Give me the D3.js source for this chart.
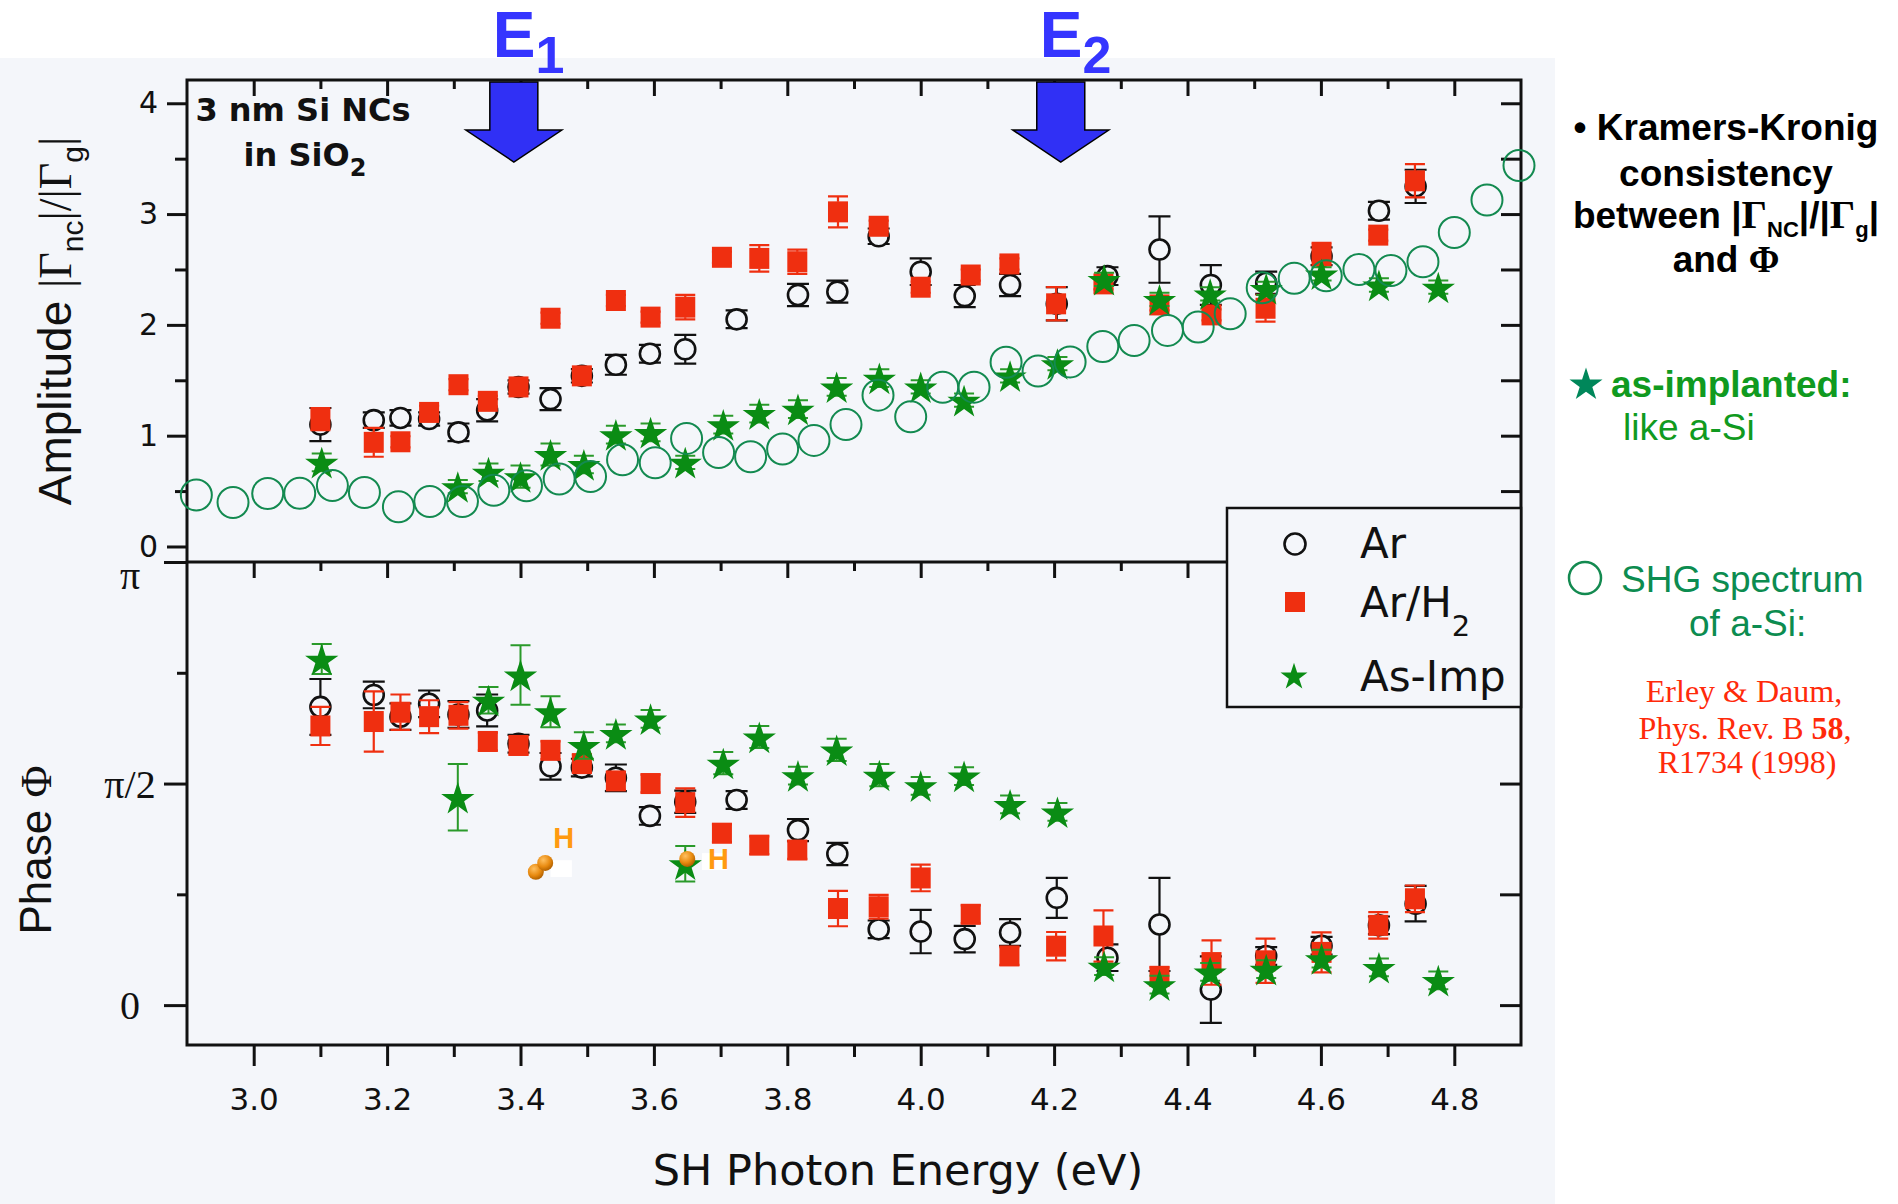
<!DOCTYPE html>
<html>
<head>
<meta charset="utf-8">
<script src="https://cdnjs.cloudflare.com/ajax/libs/d3/7.8.5/d3.min.js"></script>
<style>
  body { margin: 0; background: #fff; }
  svg { display: block; }
</style>
</head>
<body>
<div id="canvas"></div>
<script>
/* DATA (phase values are in units of pi) */
const energyAr = [3.10, 3.18, 3.22, 3.263, 3.307, 3.35, 3.397, 3.445, 3.492, 3.543, 3.594, 3.647, 3.724, 3.816, 3.875, 3.937, 4.0, 4.066, 4.134, 4.204, 4.28, 4.358, 4.435, 4.518, 4.601, 4.687, 4.742];
const ampAr = [1.10, 1.14, 1.16, 1.15, 1.03, 1.23, 1.44, 1.33, 1.54, 1.64, 1.74, 1.78, 2.05, 2.27, 2.30, 2.80, 2.48, 2.26, 2.36, 2.19, 2.44, 2.68, 2.36, 2.38, 2.62, 3.03, 3.25];
const ampErrAr = [0.15, 0.07, 0.07, 0.06, 0.08, 0.1, 0.06, 0.1, 0.06, 0.09, 0.08, 0.13, 0.08, 0.1, 0.1, 0.07, 0.12, 0.1, 0.1, 0.15, 0.08, 0.3, 0.18, 0.1, 0.08, 0.08, 0.15];
const phaseAr = [0.673, 0.70, 0.651, 0.68, 0.656, 0.665, 0.59, 0.539, 0.536, 0.513, 0.427, 0.459, 0.463, 0.395, 0.341, 0.171, 0.166, 0.149, 0.164, 0.242, 0.107, 0.182, 0.035, 0.111, 0.134, 0.18, 0.229];
const phaseErrAr = [0.063, 0.03, 0.03, 0.03, 0.03, 0.036, 0.02, 0.03, 0.02, 0.03, 0.02, 0.025, 0.02, 0.025, 0.025, 0.02, 0.049, 0.03, 0.03, 0.045, 0.03, 0.105, 0.075, 0.02, 0.02, 0.02, 0.04];

const energyArH2 = [3.10, 3.18, 3.22, 3.263, 3.307, 3.351, 3.397, 3.445, 3.492, 3.543, 3.595, 3.647, 3.702, 3.758, 3.815, 3.876, 3.937, 4.0, 4.075, 4.133, 4.203, 4.274, 4.358, 4.436, 4.517, 4.601, 4.686, 4.741];
const ampArH2 = [1.15, 0.94, 0.945, 1.21, 1.46, 1.31, 1.44, 2.06, 1.54, 2.22, 2.07, 2.16, 2.61, 2.60, 2.57, 3.02, 2.89, 2.34, 2.45, 2.55, 2.19, 2.37, 2.18, 2.09, 2.15, 2.64, 2.81, 3.30];
const ampErrArH2 = [0.1, 0.13, 0.05, 0.06, 0.05, 0.05, 0.05, 0.05, 0.05, 0.05, 0.05, 0.11, 0.05, 0.12, 0.11, 0.14, 0.05, 0.05, 0.05, 0.05, 0.15, 0.05, 0.05, 0.05, 0.12, 0.1, 0.05, 0.15];
const phaseArH2 = [0.63, 0.64, 0.661, 0.651, 0.654, 0.595, 0.586, 0.575, 0.545, 0.506, 0.50, 0.457, 0.388, 0.361, 0.35, 0.218, 0.222, 0.287, 0.205, 0.111, 0.133, 0.156, 0.065, 0.096, 0.10, 0.119, 0.18, 0.24];
const phaseErrArH2 = [0.043, 0.068, 0.04, 0.037, 0.03, 0.02, 0.02, 0.02, 0.02, 0.02, 0.02, 0.032, 0.02, 0.02, 0.02, 0.04, 0.027, 0.03, 0.02, 0.02, 0.032, 0.058, 0.02, 0.05, 0.05, 0.045, 0.03, 0.03];

const energyImp = [3.102, 3.306, 3.352, 3.40, 3.445, 3.495, 3.543, 3.595, 3.647, 3.704, 3.758, 3.816, 3.874, 3.938, 4.0, 4.065, 4.134, 4.205, 4.275, 4.358, 4.434, 4.518, 4.601, 4.687, 4.776];
const ampImp = [0.76, 0.54, 0.67, 0.63, 0.83, 0.74, 1.01, 1.03, 0.76, 1.10, 1.20, 1.24, 1.44, 1.52, 1.44, 1.32, 1.54, 1.65, 2.41, 2.23, 2.28, 2.33, 2.46, 2.36, 2.34];
const ampErrImp = [0.08, 0.06, 0.08, 0.1, 0.1, 0.08, 0.08, 0.08, 0.06, 0.08, 0.08, 0.08, 0.08, 0.08, 0.06, 0.06, 0.06, 0.06, 0.06, 0.06, 0.06, 0.06, 0.06, 0.06, 0.06];
const phaseImp = [0.781, 0.469, 0.688, 0.745, 0.662, 0.586, 0.613, 0.646, 0.319, 0.546, 0.605, 0.518, 0.576, 0.519, 0.495, 0.517, 0.453, 0.436, 0.088, 0.046, 0.075, 0.081, 0.105, 0.085, 0.056];
const phaseErrImp = [0.034, 0.075, 0.03, 0.067, 0.035, 0.03, 0.02, 0.02, 0.04, 0.025, 0.025, 0.02, 0.025, 0.025, 0.02, 0.02, 0.02, 0.02, 0.02, 0.02, 0.02, 0.02, 0.02, 0.02, 0.02];

// SHG spectrum of a-Si (Erley & Daum)
const energySHG = [2.914, 2.969, 3.021, 3.069, 3.118, 3.166, 3.217, 3.264, 3.313, 3.36, 3.409, 3.458, 3.505, 3.553, 3.602, 3.649, 3.697, 3.745, 3.793, 3.84, 3.888, 3.936, 3.985, 4.033, 4.08, 4.128, 4.176, 4.224, 4.273, 4.32, 4.37, 4.416, 4.464, 4.512, 4.56, 4.608, 4.657, 4.705, 4.753, 4.80, 4.849, 4.897];
const ampSHG = [0.465, 0.397, 0.478, 0.48, 0.55, 0.487, 0.358, 0.405, 0.406, 0.507, 0.548, 0.609, 0.632, 0.783, 0.755, 0.975, 0.848, 0.81, 0.88, 0.957, 1.10, 1.366, 1.17, 1.437, 1.438, 1.663, 1.583, 1.666, 1.805, 1.858, 1.95, 1.98, 2.10, 2.335, 2.42, 2.443, 2.50, 2.49, 2.57, 2.834, 3.127, 3.438];

// hydrogen sketch in the phase panel: [energy, phase/pi]
const hBalls = [[3.423, 0.301], [3.437, 0.321], [3.650, 0.330]];
const hLabels = [[3.449, 0.355], [3.681, 0.307]];
const hPatches = [[3.445, 0.327, 3.477, 0.289], [3.672, 0.343, 3.71, 0.305]];

// axes
const xMajor = [3.0, 3.2, 3.4, 3.6, 3.8, 4.0, 4.2, 4.4, 4.6, 4.8];
const xMinor = [3.1, 3.3, 3.5, 3.7, 3.9, 4.1, 4.3, 4.5, 4.7];
const ampMajor = [0, 1, 2, 3, 4];
const ampMinor = [0.5, 1.5, 2.5, 3.5];
const phaseMajor = [0, 0.5, 1];
const phaseMinor = [0.25, 0.75];
const phaseLabels = ['0', 'π/2', 'π'];
const arrowEnergies = [3.39, 4.21];
const arrowSubs = ['1', '2'];

/* COLOURS */
const bg = '#f4f6fa';
const red = '#ef2f10';
const green = '#0a8c14';
const teal = '#138a50';

const width = 1898, height = 1204;
const svg = d3.select('#canvas')
  .append('svg')
    .attr('width', width)
    .attr('height', height)
    .style('font-family', '"Liberation Sans", Arial, sans-serif');

const defs = svg.append('defs');
const grad = defs.append('radialGradient').attr('id', 'ball')
  .attr('cx', '38%').attr('cy', '32%').attr('r', '70%');
grad.append('stop').attr('offset', '0%').attr('stop-color', '#ffc060');
grad.append('stop').attr('offset', '60%').attr('stop-color', '#e88a10');
grad.append('stop').attr('offset', '100%').attr('stop-color', '#b06000');

// scanned-figure backdrop
svg.append('rect')
  .attr('x', 0).attr('y', 58)
  .attr('width', 1555).attr('height', height - 58)
  .attr('fill', bg);

const x = d3.scaleLinear().domain([2.9, 4.9]).range([187, 1521]);
const yAmp = d3.scaleLinear().domain([-0.14, 4.21]).range([562, 80]);
const yPhi = d3.scaleLinear().domain([-0.09, 1]).range([1045, 562]);
const L = x.range()[0], R = x.range()[1];
const T = yAmp.range()[1], M = yAmp.range()[0], B = yPhi.range()[0];

function ticks(axis, tx, ty) {
  const g = svg.append('g').attr('transform', `translate(${tx},${ty})`).call(axis);
  g.select('.domain').remove();
  g.selectAll('.tick line').attr('stroke', '#111').attr('stroke-width', 3);
  return g;
}
const blank = () => '';

// top edges (ticks pointing in)
ticks(d3.axisBottom(x).tickValues(xMajor).tickSize(16).tickFormat(blank), 0, T);
ticks(d3.axisBottom(x).tickValues(xMinor).tickSize(9).tickFormat(blank), 0, T);
ticks(d3.axisBottom(x).tickValues(xMajor).tickSize(16).tickFormat(blank), 0, M);
ticks(d3.axisBottom(x).tickValues(xMinor).tickSize(9).tickFormat(blank), 0, M);
// bottom axis
const xb = ticks(d3.axisBottom(x).tickValues(xMajor).tickSize(21).tickPadding(22).tickFormat(d3.format('.1f')), 0, B);
xb.selectAll('text')
  .attr('font-family', '"DejaVu Sans", sans-serif')
  .attr('font-size', 31).attr('fill', '#111');
ticks(d3.axisBottom(x).tickValues(xMinor).tickSize(12).tickFormat(blank), 0, B);

// amplitude axis
const ya = ticks(d3.axisLeft(yAmp).tickValues(ampMajor).tickSize(20).tickPadding(9).tickFormat(d3.format('d')), L, 0);
ya.selectAll('text')
  .attr('font-family', '"DejaVu Sans", sans-serif')
  .attr('font-size', 30).attr('fill', '#111');
ticks(d3.axisLeft(yAmp).tickValues(ampMinor).tickSize(12).tickFormat(blank), L, 0);
ticks(d3.axisLeft(yAmp).tickValues(ampMajor.concat(ampMinor)).tickSize(20).tickFormat(blank), R, 0);

// phase axis
ticks(d3.axisLeft(yPhi).tickValues(phaseMajor).tickSize(23).tickFormat(blank), L, 0);
ticks(d3.axisLeft(yPhi).tickValues(phaseMinor).tickSize(10).tickFormat(blank), L, 0);
ticks(d3.axisLeft(yPhi).tickValues([0, 0.25, 0.5, 0.75]).tickSize(21).tickFormat(blank), R, 0);
svg.append('g').selectAll('text')
  .data(phaseMajor)
  .join('text')
    .attr('x', 130)
    .attr('y', d => Math.max(yPhi(d), M + 13))
    .attr('dy', '0.35em')
    .attr('text-anchor', 'middle')
    .attr('font-family', '"Liberation Serif", serif')
    .attr('font-size', 40)
    .attr('fill', '#111')
    .text((d, i) => phaseLabels[i]);

// frames
svg.append('rect')
  .attr('x', L).attr('y', T).attr('width', R - L).attr('height', B - T)
  .attr('fill', 'none').attr('stroke', '#111').attr('stroke-width', 3);
svg.append('line')
  .attr('x1', L).attr('x2', R).attr('y1', M).attr('y2', M)
  .attr('stroke', '#111').attr('stroke-width', 3);

/* MARKS */
function rows(es, vs, errs) {
  return es.map((e, i) => ({ e, v: vs[i], err: errs ? errs[i] : 0 }));
}
// vertical bar drawn outside the symbol, caps at both ends
function errorBars(g, data, y, color, half, w, gap) {
  g.selectAll(null)
    .data(data)
    .join('path')
      .attr('d', p => {
        const cx = x(p.e), cy = y(p.v);
        const y1 = y(p.v + p.err), y2 = y(p.v - p.err);
        const a = Math.max(y1, cy - gap), b = Math.min(y2, cy + gap);
        return `M${cx},${y1}V${a}M${cx},${b}V${y2}` +
          `M${cx - half},${y1}H${cx + half}M${cx - half},${y2}H${cx + half}`;
      })
      .attr('fill', 'none')
      .attr('stroke', color)
      .attr('stroke-width', w);
}
const star = d3.symbol(d3.symbolStar, 344);

function panel(y, ar, arh2, imp) {
  const g = svg.append('g');
  errorBars(g, ar, y, '#111', 11, 2.2, 10);
  g.selectAll(null).data(ar).join('circle')
    .attr('cx', d => x(d.e)).attr('cy', d => y(d.v)).attr('r', 10)
    .attr('fill', bg).attr('stroke', '#111').attr('stroke-width', 2.6);
  errorBars(g, arh2, y, red, 10, 2.2, 10);
  g.selectAll(null).data(arh2).join('rect')
    .attr('x', d => x(d.e) - 10).attr('y', d => y(d.v) - 10.5)
    .attr('width', 20).attr('height', 21)
    .attr('fill', red);
  errorBars(g, imp, y, '#2a9a2a', 10, 2, 8);
  g.selectAll(null).data(imp).join('path')
    .attr('transform', d => `translate(${x(d.e)},${y(d.v) + 2})`)
    .attr('d', star)
    .attr('fill', green);
  return g;
}

panel(yAmp,
  rows(energyAr, ampAr, ampErrAr),
  rows(energyArH2, ampArH2, ampErrArH2),
  rows(energyImp, ampImp, ampErrImp));

svg.append('g').selectAll('ellipse')
  .data(rows(energySHG, ampSHG))
  .join('ellipse')
    .attr('cx', d => x(d.e)).attr('cy', d => yAmp(d.v))
    .attr('rx', 15.5).attr('ry', 15.5)
    .attr('fill', 'none').attr('stroke', teal).attr('stroke-width', 2);

panel(yPhi,
  rows(energyAr, phaseAr, phaseErrAr),
  rows(energyArH2, phaseArH2, phaseErrArH2),
  rows(energyImp, phaseImp, phaseErrImp));

// hydrogen sketches
svg.append('g').selectAll('rect')
  .data(hPatches)
  .join('rect')
    .attr('x', d => x(d[0])).attr('y', d => yPhi(d[1]))
    .attr('width', d => x(d[2]) - x(d[0])).attr('height', d => yPhi(d[3]) - yPhi(d[1]))
    .attr('fill', '#fff');
svg.append('g').selectAll('circle')
  .data(hBalls)
  .join('circle')
    .attr('cx', d => x(d[0])).attr('cy', d => yPhi(d[1])).attr('r', 8)
    .attr('fill', 'url(#ball)');
svg.append('g').selectAll('text')
  .data(hLabels)
  .join('text')
    .attr('x', d => x(d[0])).attr('y', d => yPhi(d[1]))
    .attr('font-weight', 'bold').attr('font-size', 29)
    .attr('fill', '#ff9a10')
    .text('H');

/* LEGEND */
const lg = svg.append('g');
lg.append('rect')
  .attr('x', 1227).attr('y', 508).attr('width', R - 1227).attr('height', 199)
  .attr('fill', bg).attr('stroke', '#111').attr('stroke-width', 2.5);
lg.append('circle').attr('cx', 1295).attr('cy', 544).attr('r', 10.5)
  .attr('fill', 'none').attr('stroke', '#111').attr('stroke-width', 2.6);
lg.append('rect').attr('x', 1285).attr('y', 592).attr('width', 20).attr('height', 20).attr('fill', red);
lg.append('path').attr('transform', 'translate(1294,677)')
  .attr('d', d3.symbol(d3.symbolStar, 226)).attr('fill', green);
const lgText = lg.append('g')
  .attr('font-family', '"DejaVu Sans", sans-serif')
  .attr('font-size', 42).attr('fill', '#111');
lgText.append('text').attr('x', 1360).attr('y', 558).text('Ar');
const lt2 = lgText.append('text').attr('x', 1360).attr('y', 617);
lt2.append('tspan').text('Ar/H');
lt2.append('tspan').attr('font-size', 29).attr('dy', 19).text('2');
lgText.append('text').attr('x', 1360).attr('y', 691).text('As-Imp');

/* ANNOTATIONS */
arrowEnergies.forEach((e, i) => {
  const cx = x(e);
  const pts = [[cx - 24, 82], [cx + 24, 82], [cx + 24, 130], [cx + 48, 130],
               [cx, 162], [cx - 48, 130], [cx - 24, 130]];
  svg.append('polygon')
    .attr('points', pts.map(p => p.join(',')).join(' '))
    .attr('fill', '#3030f5').attr('stroke', '#000').attr('stroke-width', 1.5);
  const t = svg.append('text')
    .attr('x', cx - 21).attr('y', 57)
    .attr('fill', '#3535ff').attr('font-weight', 'bold').attr('font-size', 64);
  t.append('tspan').text('E');
  t.append('tspan').attr('font-size', 52).attr('dy', 16).text(arrowSubs[i]);
});

const sample = svg.append('g')
  .attr('font-family', '"DejaVu Sans", sans-serif')
  .attr('font-weight', 'bold').attr('font-size', 32)
  .attr('text-anchor', 'middle').attr('fill', '#111');
sample.append('text').attr('x', 303).attr('y', 121).text('3 nm Si NCs');
const s2 = sample.append('text').attr('x', 305).attr('y', 166);
s2.append('tspan').text('in SiO');
s2.append('tspan').attr('font-size', 24).attr('dy', 10).text('2');

// axis titles
const serif = '"Liberation Serif", serif';
const yl = svg.append('text')
  .attr('transform', 'translate(71,321) rotate(-90)')
  .attr('text-anchor', 'middle').attr('font-size', 46).attr('fill', '#111');
yl.append('tspan').text('Amplitude ');
yl.append('tspan').attr('font-family', serif).text('|Γ');
yl.append('tspan').attr('font-size', 30).attr('dy', 12).text('nc');
yl.append('tspan').attr('font-family', serif).attr('dy', -12).text('|/|Γ');
yl.append('tspan').attr('font-size', 30).attr('dy', 12).text('g');
yl.append('tspan').attr('font-family', serif).attr('dy', -12).text('|');

const pl = svg.append('text')
  .attr('transform', 'translate(51,850) rotate(-90)')
  .attr('text-anchor', 'middle').attr('font-size', 44).attr('fill', '#111');
pl.append('tspan').text('Phase ');
pl.append('tspan').attr('font-family', serif).text('Φ');

svg.append('text')
  .attr('x', 898).attr('y', 1185)
  .attr('text-anchor', 'middle')
  .attr('font-family', '"DejaVu Sans", sans-serif')
  .attr('font-size', 43).attr('fill', '#111')
  .text('SH Photon Energy (eV)');

/* SIDE NOTES */
const notes = svg.append('g').attr('font-size', 37);
const kk = notes.append('g').attr('font-weight', 'bold').attr('text-anchor', 'middle').attr('fill', '#000');
kk.append('text').attr('x', 1726).attr('y', 140).text('• Kramers-Kronig');
kk.append('text').attr('x', 1726).attr('y', 186).text('consistency');
const kk3 = kk.append('text').attr('x', 1726).attr('y', 228);
kk3.append('tspan').text('between |');
kk3.append('tspan').attr('font-family', serif).attr('font-size', 40).text('Γ');
kk3.append('tspan').attr('font-size', 22).attr('dy', 9).text('NC');
kk3.append('tspan').attr('dy', -9).text('|/|');
kk3.append('tspan').attr('font-family', serif).attr('font-size', 40).text('Γ');
kk3.append('tspan').attr('font-size', 22).attr('dy', 9).text('g');
kk3.append('tspan').attr('dy', -9).text('|');
const kk4 = kk.append('text').attr('x', 1726).attr('y', 272);
kk4.append('tspan').text('and ');
kk4.append('tspan').attr('font-family', serif).text('Φ');

notes.append('path').attr('transform', 'translate(1586,385)')
  .attr('d', d3.symbol(d3.symbolStar, 340)).attr('fill', '#00875a');
notes.append('text').attr('x', 1611).attr('y', 397)
  .attr('font-weight', 'bold').attr('fill', '#109a20').text('as-implanted:');
notes.append('text').attr('x', 1623).attr('y', 440)
  .attr('fill', '#109a20').text('like a-Si');

notes.append('circle').attr('cx', 1585).attr('cy', 578).attr('r', 16)
  .attr('fill', 'none').attr('stroke', teal).attr('stroke-width', 2.5);
notes.append('text').attr('x', 1621).attr('y', 592)
  .attr('fill', '#0c8c50').text('SHG spectrum');
notes.append('text').attr('x', 1689).attr('y', 636)
  .attr('fill', '#0c8c50').text('of a-Si:');

const ref = svg.append('g')
  .attr('font-family', serif).attr('font-size', 32)
  .attr('text-anchor', 'middle').attr('fill', '#ff2a0a');
ref.append('text').attr('x', 1744).attr('y', 702).text('Erley & Daum,');
const r2 = ref.append('text').attr('x', 1745).attr('y', 739);
r2.append('tspan').text('Phys. Rev. B ');
r2.append('tspan').attr('font-weight', 'bold').text('58');
r2.append('tspan').text(',');
ref.append('text').attr('x', 1747).attr('y', 773).text('R1734 (1998)');
</script>
</body>
</html>
